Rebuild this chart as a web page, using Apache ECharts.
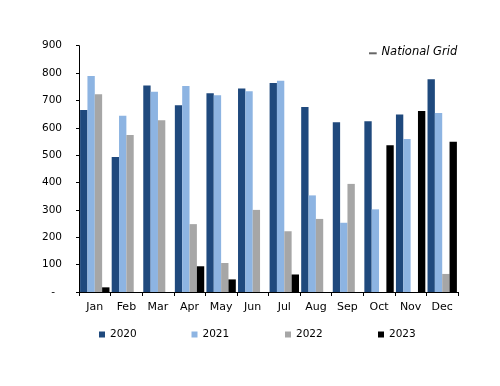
<!DOCTYPE html>
<html><head><meta charset="utf-8">
<script src="https://cdn.jsdelivr.net/npm/echarts@6/dist/echarts.min.js"></script>
<style>html,body{margin:0;padding:0;background:#fff}#c{width:500px;height:386px}</style>
</head><body><div id="c"></div>
<script>
var categories = ['Jan','Feb','Mar','Apr','May','Jun','Jul','Aug','Sep','Oct','Nov','Dec'];
var s2020 = [665, 493, 755, 682, 726, 744, 764, 676, 620, 624, 649, 777];
var s2021 = [789, 644, 732, 753, 719, 734, 772, 353, 253, 302, 559, 654];
var s2022 = [723, 574, 628, 248, 106, 300, 222, 267, 395, 0, 0, 66];
var s2023 = [17, 0, 0, 94, 46, 0, 64, 0, 0, 536, 661, 549];
var seriesNames = ['2020','2021','2022','2023'];
var colors = ['#1F497D','#8DB4E2','#A6A6A6','#000000'];
var font = 'DejaVu Sans';
var chart = echarts.init(document.getElementById('c'), null, {renderer:'canvas'});
var data = [s2020, s2021, s2022, s2023];
var series = seriesNames.map(function(n,i){
  return {name:n, type:'bar', data:data[i], barGap:'0%', barCategoryGap:'7%',
    itemStyle:{color:colors[i]}, animation:false};
});
var legendLefts = [94, 186.5, 280, 373];
var legends = seriesNames.map(function(n,i){
  return {data:[n], left:legendLefts[i], top:324, itemWidth:6, itemHeight:6, icon:'rect',
    textStyle:{fontFamily:font, fontSize:10.5, color:'#000'}, selectedMode:false};
});
chart.setOption({
  animation:false,
  grid:{left:79, right:42, top:45.7, bottom:94, containLabel:false},
  legend: legends,
  xAxis:{type:'category', data:categories,
    axisLine:{lineStyle:{color:'#000', width:1}},
    axisTick:{show:true, length:4, lineStyle:{color:'#000'}},
    axisLabel:{fontFamily:font, fontSize:11, color:'#000', margin:10}},
  yAxis:{type:'value', min:0, max:900, interval:100,
    axisLine:{show:true, lineStyle:{color:'#000', width:1}},
    axisTick:{show:true, length:3, lineStyle:{color:'#000'}},
    splitLine:{show:false},
    axisLabel:{fontFamily:font, fontSize:10.5, color:'#000', margin:17,
      formatter:function(v){return v===0?'{d|-}':String(v);},
      rich:{d:{fontFamily:font, fontSize:10.5, color:'#000', padding:[0,7,0,0]}}}},
  graphic:[
    {type:'rect', shape:{x:369, y:52.3, width:7.7, height:2}, style:{fill:'#666'}},
    {type:'text', left:381.5, top:46, style:{text:'National Grid', fontFamily:font, fontStyle:'italic', fontSize:11.5, fill:'#000'}}
  ],
  series: series
});
</script></body></html>
